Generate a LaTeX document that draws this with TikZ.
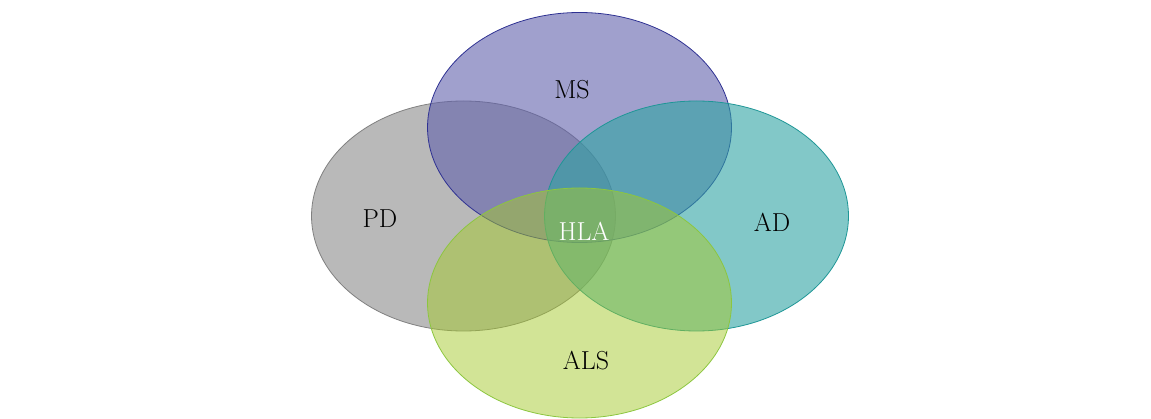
\documentclass[tikz,border=0pt]{standalone}
\usetikzlibrary{shapes.geometric}
\definecolor{msfill}{RGB}{97,97,172}
\definecolor{msline}{RGB}{46,49,146}
\definecolor{pdfill}{RGB}{138,138,138}
\definecolor{pdline}{RGB}{128,128,128}
\definecolor{adfill}{RGB}{47,163,163}
\definecolor{adline}{RGB}{30,150,150}
\definecolor{alsfill}{RGB}{165,201,45}
\definecolor{alsline}{RGB}{140,198,63}
\tikzset{
  setbox/.style={ellipse, minimum width=304pt, minimum height=230pt, inner sep=0pt, fill opacity=0.6, line width=0.8pt},
  setlabel/.style={font=\fontsize{26}{30}\selectfont, text=black, inner sep=0pt},
}
\begin{document}
\begin{tikzpicture}[x=1pt,y=-1pt]
\useasboundingbox (0,0) rectangle (1151,419);
\node[setbox, draw=pdline, fill=pdfill] (pd) at (463.5,216) {};
\node[setbox, draw=msline, fill=msfill] (ms) at (579.5,127.5) {};
\node[setbox, draw=adline, fill=adfill] (ad) at (696.5,216) {};
\node[setbox, draw=alsline, fill=alsfill, fill opacity=0.5] (als) at (579.5,303) {};
\node[setlabel] (mslab) at (572,90) {MS};
\node[setlabel] (pdlab) at (380,219) {PD};
\node[setlabel] (adlab) at (772,222) {AD};
\node[setlabel] (alslab) at (586,361) {ALS};
\node[setlabel, text=white] (hlalab) at (584,231) {HLA};
\end{tikzpicture}
\end{document}
